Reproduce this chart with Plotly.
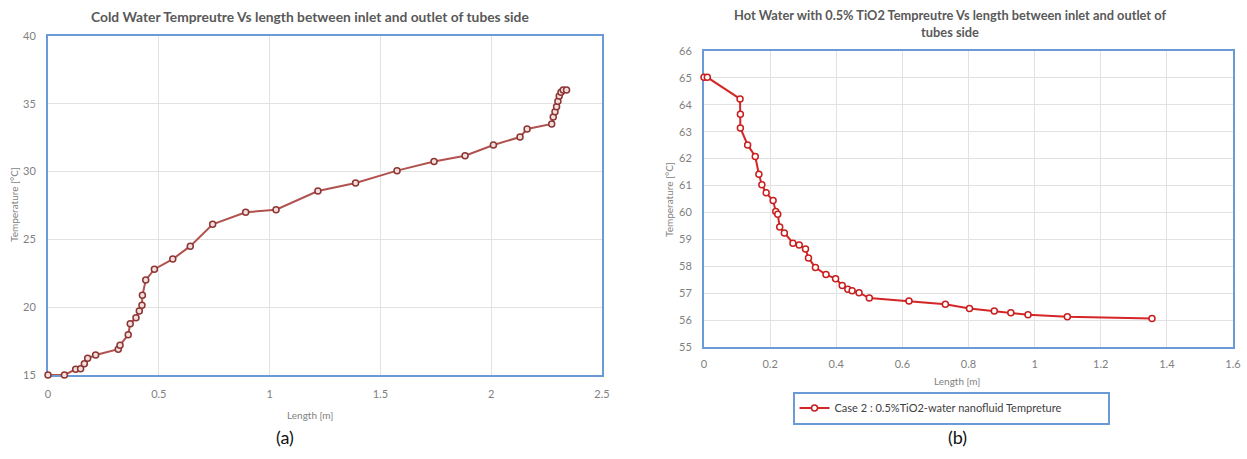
import plotly.graph_objects as go

# Left chart (a): cold water temperature vs length
cold_len = [0, 0.074, 0.125, 0.147, 0.164, 0.179, 0.215, 0.317, 0.325, 0.362, 0.371, 0.397,
            0.412, 0.424, 0.426, 0.441, 0.48, 0.563, 0.642, 0.743, 0.892, 1.029, 1.218, 1.388,
            1.575, 1.742, 1.882, 2.01, 2.13, 2.162, 2.273, 2.28, 2.288, 2.295, 2.301, 2.307,
            2.315, 2.325, 2.34]
cold_temp = [15.0, 15.0, 15.42, 15.46, 15.83, 16.23, 16.47, 16.9, 17.2, 17.97, 18.78, 19.23,
             19.72, 20.14, 20.88, 22.0, 22.8, 23.55, 24.5, 26.11, 27.0, 27.19, 28.57, 29.16,
             30.07, 30.75, 31.17, 31.96, 32.55, 33.14, 33.51, 34.03, 34.42, 34.79, 35.18, 35.57,
             35.85, 36.02, 36.02]

# Right chart (b): hot water with 0.5% TiO2
hot_len = [0, 0.01, 0.109, 0.11, 0.11, 0.132, 0.155, 0.166, 0.175, 0.188, 0.209, 0.217, 0.223,
           0.229, 0.243, 0.269, 0.288, 0.307, 0.316, 0.337, 0.369, 0.398, 0.418, 0.435, 0.448,
           0.469, 0.5, 0.62, 0.73, 0.803, 0.878, 0.928, 0.98, 1.099, 1.355]
hot_temp = [65.02, 65.02, 64.22, 63.65, 63.14, 62.51, 62.08, 61.42, 61.03, 60.73, 60.44, 60.04,
            59.93, 59.46, 59.24, 58.86, 58.79, 58.64, 58.31, 57.95, 57.69, 57.54, 57.29, 57.15,
            57.09, 57.02, 56.82, 56.71, 56.59, 56.43, 56.34, 56.27, 56.2, 56.12, 56.06]

title_a = "Cold Water Tempreutre Vs length between inlet and outlet of tubes side"
title_b = "Hot Water with 0.5% TiO2 Tempreutre Vs length between inlet and outlet of<br>tubes side"
legend_b = "Case 2 : 0.5%TiO2-water nanofluid Tempreture"

W, H = 1247, 459
def px(x): return x / W
def py(y): return 1 - y / H

FONT = "Lato"
GRID = "#e2e2e2"
BORDER = "#6a9bd6"
TICK = "#7f7f7f"

fig = go.Figure()
fig.add_trace(go.Scatter(
    x=cold_len, y=cold_temp, mode="lines+markers", xaxis="x", yaxis="y", showlegend=False,
    cliponaxis=False,
    line=dict(color="#b0524f", width=2),
    marker=dict(symbol="circle", size=6, color="#f3dede", line=dict(color="#8c3533", width=1.5)),
))
fig.add_trace(go.Scatter(
    x=hot_len, y=hot_temp, mode="lines+markers", xaxis="x2", yaxis="y2", name=legend_b,
    cliponaxis=False,
    line=dict(color="#d42626", width=2),
    marker=dict(symbol="circle", size=6, color="white", line=dict(color="#c81e1e", width=1.5)),
))

axis_common = dict(showgrid=True, gridcolor=GRID, gridwidth=1, zeroline=False,
                   showline=True, linecolor=BORDER, linewidth=2, mirror=True,
                   automargin=False, layer="below traces",
                   ticks="", tickfont=dict(family=FONT, size=11, color=TICK))

fig.update_layout(
    width=W, height=H, autosize=False,
    margin=dict(l=0, r=0, t=0, b=0),
    paper_bgcolor="white", plot_bgcolor="white",
    font=dict(family=FONT),
    xaxis=dict(domain=[px(48), px(602)], range=[0, 2.5], dtick=0.5, anchor="y",
               ticklabelstandoff=8, **axis_common),
    yaxis=dict(domain=[py(375), py(36)], range=[15, 40], dtick=5, anchor="x",
               ticklabelstandoff=8, **axis_common),
    xaxis2=dict(domain=[px(704), px(1233)], range=[0, 1.6], dtick=0.2, anchor="y2",
                ticklabelstandoff=6, **axis_common),
    yaxis2=dict(domain=[py(347), py(51)], range=[55, 66], dtick=1, anchor="x2",
                ticklabelstandoff=8, **axis_common),
    showlegend=True,
    legend=dict(x=px(951), y=py(408), xanchor="center", yanchor="middle",
                orientation="h", bordercolor=BORDER, borderwidth=2, bgcolor="white",
                font=dict(family=FONT, size=11, color="#404040"),
                itemwidth=30, entrywidth=268, tracegroupgap=0),
)

ann = []
def add(text, x, y, size, color="#595959", bold=False, angle=0):
    ann.append(dict(text=f"<b>{text}</b>" if bold else text, x=px(x), y=py(y),
                    xref="paper", yref="paper", showarrow=False, textangle=angle,
                    xanchor="center", yanchor="middle",
                    font=dict(family=FONT, size=size, color=color)))

add(title_a, 310, 17, 13.8, bold=True)
add(title_b, 950, 23, 12.8, bold=True)
add("Temperature [°C]", 14, 205, 10, color=TICK, angle=-90)
add("Temperature [°C]", 669, 200, 10, color=TICK, angle=-90)
add("Length [m]", 310, 415, 10, color=TICK)
add("Length [m]", 957, 381, 10, color=TICK)
add("(a)", 285, 437, 18, color="#111111")
add("(b)", 957, 437, 18, color="#111111")
fig.update_layout(annotations=ann)

fig.write_html("out.html", config={"displayModeBar": False},
               post_script="document.body.style.margin='0';document.body.style.overflow='hidden';")
